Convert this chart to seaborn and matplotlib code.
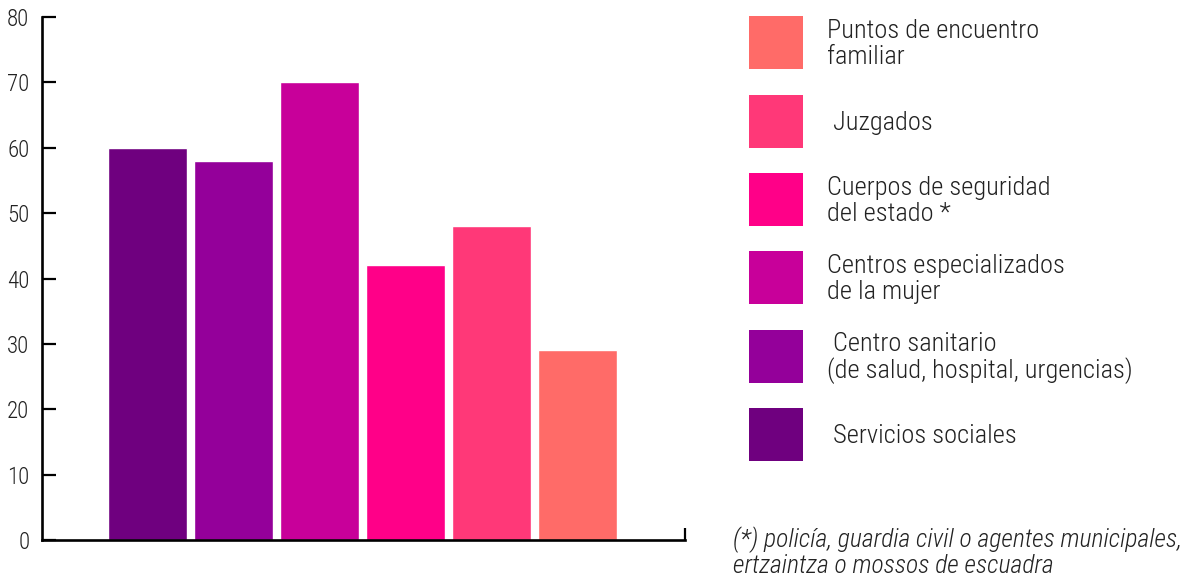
import matplotlib
matplotlib.use("Agg")
import matplotlib.pyplot as plt
from matplotlib.patches import Rectangle
import seaborn as sns
import pandas as pd

# Resources used, percentage of respondents
categories = [
    "Servicios sociales",
    "Centro sanitario\n(de salud, hospital, urgencias)",
    "Centros especializados\nde la mujer",
    "Cuerpos de seguridad\ndel estado *",
    "Juzgados",
    "Puntos de encuentro\nfamiliar",
]
legend_labels = [
    " Servicios sociales",
    " Centro sanitario\n(de salud, hospital, urgencias)",
    "Centros especializados\nde la mujer",
    "Cuerpos de seguridad\ndel estado *",
    " Juzgados",
    "Puntos de encuentro\nfamiliar",
]
values = [60, 58, 70, 42, 48, 29]
colors = ["#6f007f", "#94009a", "#c8009a", "#ff0088", "#ff3878", "#ff6b68"]
yticks = [0, 10, 20, 30, 40, 50, 60, 70, 80]
footnote = "(*) policía, guardia civil o agentes municipales,\nertzaintza o mossos de escuadra"

sns.set_theme(style="white")
plt.rcParams["font.family"] = ["Roboto Condensed", "DejaVu Sans"]
plt.rcParams["font.weight"] = 300

W, H = 1192, 576
fig = plt.figure(figsize=(W / 100, H / 100), dpi=100)
ax = fig.add_axes([42 / W, 1 - 540 / H, (685 - 42) / W, (540 - 17) / H])

df = pd.DataFrame({"cat": categories, "val": values})
sns.barplot(data=df, x="cat", y="val", hue="cat", palette=colors,
            order=categories, hue_order=categories, width=0.91,
            saturation=1, legend=False, dodge=False, ax=ax)

ax.set_ylim(0, 80)
ax.set_xlim(-1.227, 6.25)
ax.set_yticks(yticks)
ax.set_yticklabels([str(t) for t in yticks], fontsize=16.5, color="#222222",
                   fontweight=300)
ax.set_xticks([6.25])
ax.set_xticklabels([""])
ax.set_xlabel("")
ax.set_ylabel("")
for side in ["top", "right"]:
    ax.spines[side].set_visible(False)
for side in ["left", "bottom"]:
    ax.spines[side].set_color("black")
    ax.spines[side].set_linewidth(1.9)
ax.tick_params(axis="y", direction="in", length=10, width=1.6, color="black",
               pad=9, left=True)
ax.tick_params(axis="x", direction="in", length=9, width=1.6, color="black",
               bottom=True)

# Legend panel drawn in pixel coordinates
lax = fig.add_axes([0, 0, 1, 1])
lax.set_xlim(0, W)
lax.set_ylim(H, 0)
lax.axis("off")
tops = [408, 330, 251, 173, 95, 16]
for top, lab, col in zip(tops, legend_labels, colors):
    lax.add_patch(Rectangle((749, top), 54, 53, facecolor=col, edgecolor="none"))
    lax.text(827, top + 28, lab, fontsize=19, va="center", ha="left",
             linespacing=1.08, color="#222222", fontweight=300)

lax.text(733, 552, footnote, fontsize=18.5, style="italic", va="center",
         ha="left", linespacing=1.05, color="#222222", fontweight=300)

fig.savefig("out.png", dpi=100)
